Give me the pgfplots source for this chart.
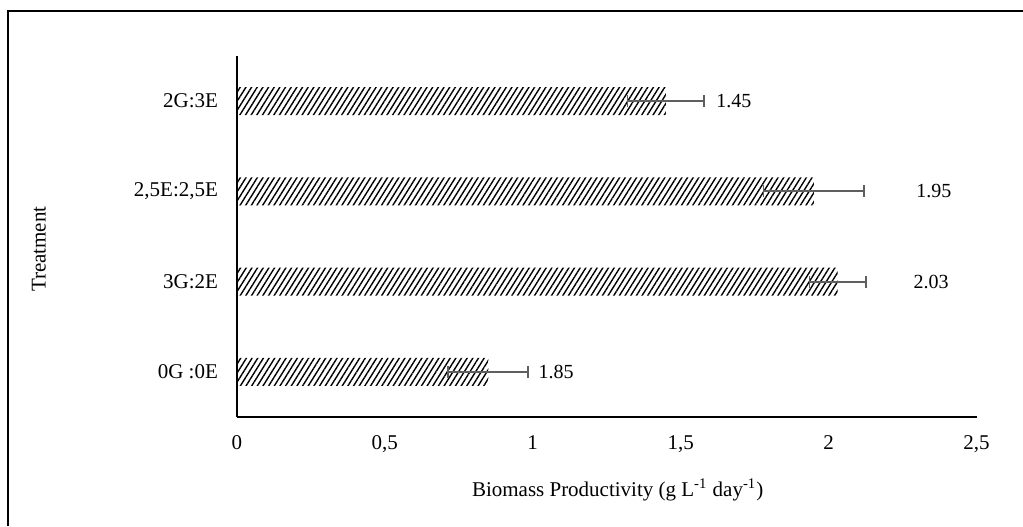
\documentclass[border=0pt]{standalone}
\usepackage{fontspec}
\setmainfont{Liberation Serif}
\usepackage{pgfplots}
\pgfplotsset{compat=1.18}
\usetikzlibrary{patterns.meta}
\definecolor{errgray}{RGB}{95,95,95}

\begin{document}
\begin{tikzpicture}
\begin{axis}[
  name=ax,
  at={(0,0)}, anchor=south west,
  scale only axis,
  width=369.9pt, height=180.5pt,
  xmin=0, xmax=2.5,
  ymin=-0.5, ymax=3.5,
  axis x line*=bottom,
  axis y line*=left,
  axis line style={line width=1pt, black, -},
  xtick={0,0.5,1,1.5,2,2.5},
  xticklabels={0,{0,5},1,{1,5},2,{2,5}},
  ytick={0,1,2,3},
  yticklabels={{0G :0E},{3G:2E},{2,5E:2,5E},{2G:3E}},
  major tick length=0pt,
  tick style={draw=none},
  xticklabel style={anchor=north, yshift=-5.6pt},
  yticklabel style={anchor=east, xshift=-5.9pt},
  every tick label/.append style={font=\fontsize{10.5pt}{12pt}\selectfont},
  label style={font=\fontsize{10.5pt}{12pt}\selectfont},
  xlabel={Biomass Productivity (g L\textsuperscript{-1} day\textsuperscript{-1})},
  ylabel={Treatment},
  xlabel style={at={(axis description cs:0.5148,-0.2022)}, anchor=center},
  ylabel style={at={(axis description cs:-0.2674,0.465)}, anchor=center},
  clip=false,
]
% bars with standard deviation
\addplot[
  xbar, bar shift=0pt, bar width=14pt,
  draw=none,
  pattern={Lines[angle=58, distance=2.4pt, line width=0.7pt]},
  pattern color=black,
  error bars/.cd,
    x dir=both, x explicit,
    error bar style={errgray, line width=1pt},
    error mark options={errgray, line width=0.9pt, mark size=3pt, rotate=90},
] coordinates {
  (0.85,0) +- (0.135,0)
  (2.03,1) +- (0.095,0)
  (1.95,2) +- (0.17,0)
  (1.45,3) +- (0.13,0)
};
% value labels
\addplot[
  draw=none, mark=none,
  nodes near coords,
  point meta=explicit symbolic,
  nodes near coords style={anchor=center, font=\normalsize, text=black},
] coordinates {
  (1.079,0) [1.85]
  (2.346,1) [2.03]
  (2.356,2) [1.95]
  (1.680,3) [1.45]
};
\end{axis}
\pgfresetboundingbox
\path[use as bounding box] ([shift={(-118.4pt,-54.5pt)}]ax.south west) rectangle ([shift={(393.1pt,208.5pt)}]ax.south west);
\draw[line width=1pt, black]
  ([shift={(-114.15pt,-54.5pt)}]ax.south west) --
  ([shift={(-114.15pt,203.15pt)}]ax.south west) --
  ([shift={(393.1pt,203.15pt)}]ax.south west);
\end{tikzpicture}
\end{document}
